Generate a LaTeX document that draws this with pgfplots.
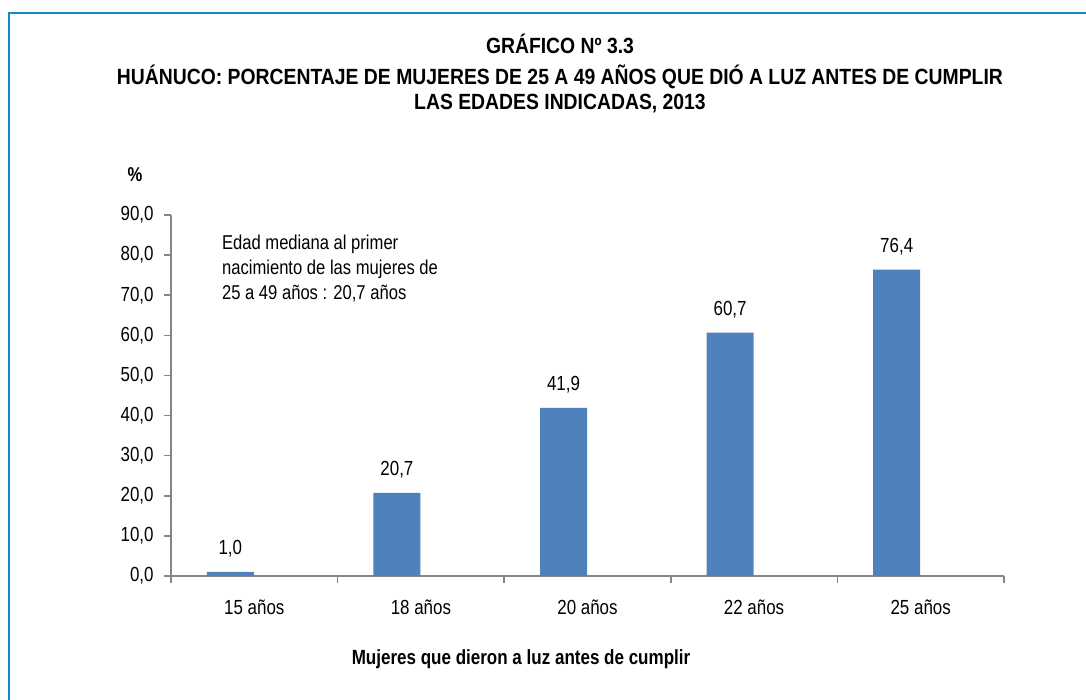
\documentclass[border=0pt]{standalone}
\usepackage{fontspec}
\setmainfont{Liberation Sans}[FakeStretch=0.83]
\newfontfamily\titlefont{Liberation Sans}[FakeStretch=0.88]
\usepackage{pgfplots}
\pgfplotsset{compat=1.18}
\definecolor{barblue}{RGB}{79,129,189}
\definecolor{axgray}{RGB}{134,134,134}
\definecolor{frame}{RGB}{23,138,196}
\begin{document}
\begin{tikzpicture}
\useasboundingbox (0,0) rectangle (543pt,350pt);
\fill[white] (0,0) rectangle (543pt,350pt);
\draw[frame, line width=1.3pt] (4.5pt,0) -- (4.5pt,343.5pt) -- (543pt,343.5pt);
% title
\node[anchor=base, font=\titlefont\fontsize{11pt}{13pt}\selectfont\bfseries] at (280pt,323pt) {GRÁFICO Nº 3.3};
\node[anchor=base, font=\titlefont\fontsize{11pt}{13pt}\selectfont\bfseries] at (280pt,307.5pt) {HUÁNUCO: PORCENTAJE DE MUJERES DE 25 A 49 AÑOS QUE DIÓ A LUZ ANTES DE CUMPLIR};
\node[anchor=base, font=\titlefont\fontsize{11pt}{13pt}\selectfont\bfseries] at (280pt,295pt) {LAS EDADES INDICADAS, 2013};
\node[anchor=base, font=\fontsize{10pt}{12pt}\selectfont\bfseries] at (67.5pt,259pt) {\%};
\begin{axis}[
  at={(85.5pt,62pt)}, anchor=south west,
  scale only axis, width=416.5pt, height=180.5pt,
  xmin=-0.5, xmax=4.5, ymin=0, ymax=90,
  axis x line*=bottom, axis y line*=left,
  axis line style={draw=axgray, line width=0.8pt, -},
  ytick={0,10,...,90},
  xtick={0,1,2,3,4},
  xticklabels={15 años,18 años,20 años,22 años,25 años},
  minor xtick={-0.5,0.5,1.5,2.5,3.5,4.5},
  tick align=outside,
  major tick length=3.5pt, minor tick length=3.5pt,
  tick style={draw=axgray, line width=0.8pt},
  major x tick style={draw=none},
  tick label style={font=\fontsize{10.2pt}{12pt}\selectfont},
  yticklabel style={anchor=east, inner sep=0pt, xshift=-5pt},
  xticklabel style={anchor=base, inner sep=0pt, yshift=-16pt},
  /pgf/number format/.cd, fixed, fixed zerofill, precision=1, use comma, assume math mode=true,
]
\addplot[ybar, bar width=23.5pt, bar shift=-12pt, fill=barblue, draw=none,
  nodes near coords,
  every node near coord/.append style={anchor=base, inner sep=0pt, xshift=-12pt, yshift=8.5pt, font=\fontsize{10.2pt}{12pt}\selectfont, text=black}]
  coordinates {(0,1.0) (1,20.7) (2,41.9) (3,60.7) (4,76.4)};
\end{axis}
\node[anchor=base west, font=\fontsize{10pt}{12pt}\selectfont] at (107.5pt,225pt) {Edad mediana al primer};
\node[anchor=base west, font=\fontsize{10pt}{12pt}\selectfont] at (107.5pt,212.5pt) {nacimiento de las mujeres de};
\node[anchor=base west, font=\fontsize{10pt}{12pt}\selectfont] at (107.5pt,200pt) {25 a 49 años : 20,7 años};
\node[anchor=base, font=\fontsize{10.25pt}{12pt}\selectfont\bfseries] at (260.5pt,17.5pt) {Mujeres que dieron a luz antes de cumplir};
\end{tikzpicture}
\end{document}
